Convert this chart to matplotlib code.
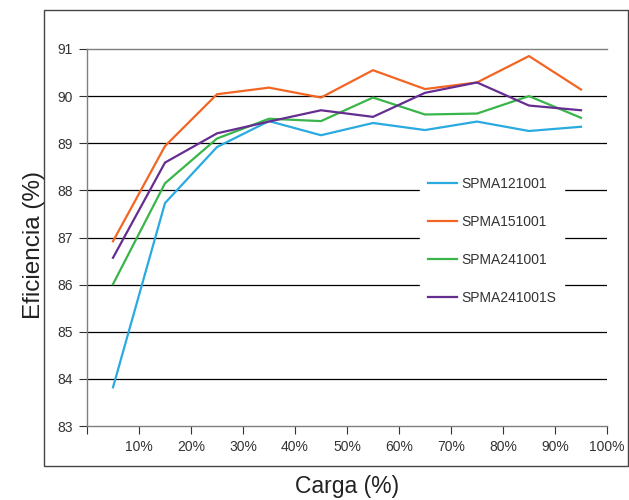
import matplotlib
matplotlib.use('Agg')
import matplotlib.pyplot as plt
from matplotlib.patches import Rectangle

# carga (%) and efficiency for each supply
carga = [5, 15, 25, 35, 45, 55, 65, 75, 85, 95]
spma121001 = [83.82, 87.73, 88.92, 89.47, 89.17, 89.43, 89.28, 89.46, 89.26, 89.35]
spma151001 = [86.92, 88.94, 90.04, 90.18, 89.97, 90.55, 90.15, 90.29, 90.85, 90.14]
spma241001 = [86.01, 88.15, 89.10, 89.52, 89.47, 89.97, 89.61, 89.63, 90.00, 89.54]
spma241001s = [86.57, 88.59, 89.21, 89.46, 89.70, 89.56, 90.07, 90.29, 89.80, 89.70]

xticks = [0, 10, 20, 30, 40, 50, 60, 70, 80, 90, 100]
xlabels = ['', '10%', '20%', '30%', '40%', '50%', '60%', '70%', '80%', '90%', '100%']
yticks = [83, 84, 85, 86, 87, 88, 89, 90, 91]

plt.rcParams['font.family'] = ['Liberation Sans', 'DejaVu Sans']

fig = plt.figure(figsize=(6.29, 5.0), dpi=100)
ax = fig.add_axes([87/629, 1-426/500, (607-87)/629, (426-49)/500])

# outer frame around the chart area
fig.patches.append(Rectangle((44/629, 1-466/500), (628-44)/629, (466-10)/500,
                             transform=fig.transFigure, fill=False,
                             edgecolor='#444444', linewidth=1.0))

for y in yticks[1:-1]:
    ax.axhline(y, color='black', linewidth=0.9, zorder=1)

ax.plot(carga, spma121001, color='#29aae1', lw=1.6, label='SPMA121001', zorder=3)
ax.plot(carga, spma151001, color='#f26522', lw=1.6, label='SPMA151001', zorder=3)
ax.plot(carga, spma241001, color='#39b54a', lw=1.6, label='SPMA241001', zorder=3)
ax.plot(carga, spma241001s, color='#662d91', lw=1.6, label='SPMA241001S', zorder=3)

ax.set_xlim(0, 100)
ax.set_ylim(83, 91)
ax.set_xticks(xticks)
ax.set_xticklabels(xlabels)
ax.set_yticks(yticks)
ax.tick_params(axis='both', labelsize=10, colors='#333333', length=6, width=0.8,
               direction='out', pad=4)

for s in ['left', 'bottom', 'top']:
    ax.spines[s].set_color('#7f7f7f')
    ax.spines[s].set_linewidth(1.0)
ax.spines['right'].set_visible(False)

leg = ax.legend(loc='upper left', bbox_to_anchor=((413-87)/520, (426-162)/377),
                frameon=True, fontsize=10, handlelength=2.1, handletextpad=0.25,
                labelspacing=1.72, borderpad=0.6, fancybox=False)
leg.get_frame().set_edgecolor('white')
leg.get_frame().set_facecolor('white')
leg.get_frame().set_alpha(1)
for t in leg.get_texts():
    t.set_color('#333333')

fig.text(34/629, 1-245/500, 'Eficiencia (%)', rotation=90, ha='center', va='center',
         fontsize=17.5, color='#222222')
fig.text(347/629, 1-487/500, 'Carga (%)', ha='center', va='center',
         fontsize=16.5, color='#222222')

plt.savefig('out.png', dpi=100)
